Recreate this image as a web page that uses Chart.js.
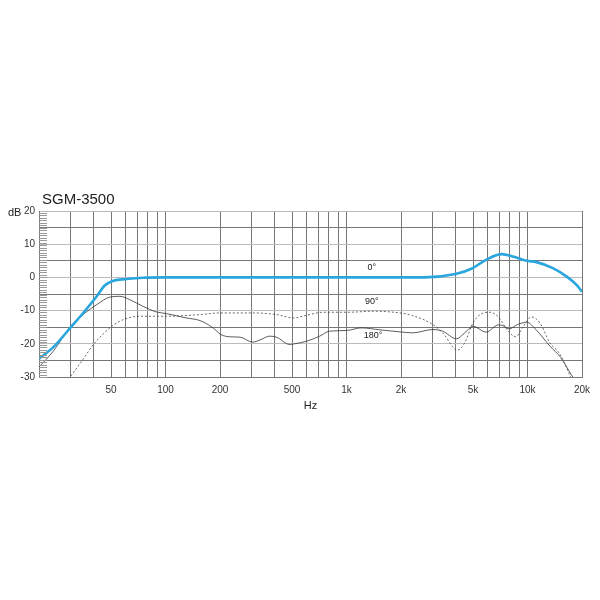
<!DOCTYPE html>
<html>
<head>
<meta charset="utf-8">
<script src="https://cdn.jsdelivr.net/npm/chart.js@4"></script>
<style>
  body { margin: 0; background: #fff; }
  #wrap { width: 600px; height: 600px; }
</style>
</head>
<body>
<div id="wrap"><canvas id="respChart"></canvas></div>
<script>
// 0° (on axis)
var freq0 = [20, 24, 30, 35, 41.7, 46, 51.5, 61, 75, 100, 1000, 2700, 4000, 4900, 5900, 7200, 8300, 9900, 11200, 13800, 16400, 18600, 20000];
var db0   = [-24.5, -21, -15, -10.8, -5.7, -2.5, -1, -0.5, -0.1, 0, 0, 0, 1, 2.6, 5.3, 7.0, 6.3, 5.0, 4.6, 2.8, 0.3, -2.2, -4.3];

// 90° (dashed)
var freq90 = [30, 35, 40, 50.6, 58.6, 72.5, 101, 155, 200, 306, 410, 508, 603, 740, 1000, 1410, 1970, 2320, 3000, 3400, 4100, 4500, 5000, 5700, 6200, 6900, 7700, 8600, 9500, 10500, 11700, 13300, 15000, 16900, 17300];
var db90   = [-29.7, -24.7, -20.2, -14.7, -12.7, -11.7, -11.7, -11.2, -10.7, -10.7, -11.2, -12.2, -11.4, -10.5, -10.5, -10.2, -10.7, -11.5, -14.2, -16.7, -21.9, -19.7, -13.7, -10.7, -10.5, -11.9, -15.7, -17.9, -14.7, -11.9, -13.7, -19.7, -22.9, -28.7, -30];

// 180° (solid thin)
var freq180 = [20, 24, 30, 35, 41.7, 49.5, 56, 63.5, 75, 89, 101, 130, 155, 183, 202, 228, 258, 303, 337, 376, 410, 485, 516, 603, 711, 805, 1000, 1210, 1530, 1970, 2320, 3000, 3400, 4050, 4500, 5000, 5900, 6900, 7300, 7900, 8800, 9900, 11200, 13300, 15300, 17400, 17800];
var db180   = [-27, -22.2, -14.7, -11.2, -8.2, -5.9, -5.7, -6.7, -8.7, -10.4, -10.9, -12.2, -13, -15.2, -17.2, -17.9, -18, -19.5, -18.7, -17.7, -18, -20.2, -20, -19.2, -17.7, -16.2, -16, -15.2, -15.8, -16.4, -16.7, -15.7, -16.2, -18.5, -16.7, -14.7, -16.5, -14.3, -14.5, -15.5, -14.2, -13.5, -15.9, -20.7, -24.2, -29.2, -30];

// axis ticks
var xGridFreqs = [20, 30, 40, 50, 60, 70, 80, 90, 100, 200, 300, 400, 500, 600, 700, 800, 900,
                  1000, 2000, 3000, 4000, 5000, 6000, 7000, 8000, 9000, 10000, 20000];
var xLabelFreqs = [50, 100, 200, 500, 1000, 2000, 5000, 10000, 20000];
var xLabelText  = ['50', '100', '200', '500', '1k', '2k', '5k', '10k', '20k'];
var yTicks = [-30, -20, -10, 0, 10, 20];

// curve labels
var curveNames = ['0°', '90°', '180°'];
var curveLabelFreq = [1380, 1380, 1400];
var curveLabelDb = [2.9, -7.3, -17.5];

function pairs(fs, vs) {
    return fs.map(function (f, i) { return { x: f, y: vs[i] }; });
}

var ladderStep = 0.75;

// draws title, dB label, left ruler and the angle labels
var decorPlugin = {
    id: 'decor',
    afterDraw: function (chart) {
        var ctx = chart.ctx;
        var xs = chart.scales.x;
        var ys = chart.scales.y;
        var area = chart.chartArea;
        ctx.save();

        // ruler on the left edge
        ctx.strokeStyle = '#999';
        ctx.lineWidth = 1;
        ctx.beginPath();
        for (var v = -30; v <= 20; v += ladderStep) {
            var py = Math.round(ys.getPixelForValue(v)) + 0.5;
            ctx.moveTo(area.left, py);
            ctx.lineTo(area.left + 8, py);
        }
        ctx.stroke();

        ctx.fillStyle = '#222';
        ctx.font = '15px "Liberation Sans", Arial, sans-serif';
        ctx.textAlign = 'left';
        ctx.textBaseline = 'alphabetic';
        ctx.fillText('SGM-3500', 42, 204);

        ctx.font = '11px "Liberation Sans", Arial, sans-serif';
        ctx.fillText('dB', 8, 216);

        ctx.font = '9px "Liberation Sans", Arial, sans-serif';
        ctx.textAlign = 'center';
        ctx.textBaseline = 'middle';
        curveNames.forEach(function (name, i) {
            ctx.fillText(name, xs.getPixelForValue(curveLabelFreq[i]), ys.getPixelForValue(curveLabelDb[i]));
        });
        ctx.restore();
    }
};

const ctx = document.getElementById('respChart').getContext('2d');

const respChart = new Chart(ctx, {
    type: 'line',
    data: {
        datasets: [
            {
                label: '0°',
                data: pairs(freq0, db0),
                borderColor: '#2aa6de',
                borderWidth: 2.6,
                cubicInterpolationMode: 'monotone',
                pointRadius: 0,
                fill: false,
            },
            {
                label: '90°',
                data: pairs(freq90, db90),
                borderColor: '#444',
                borderWidth: 0.8,
                borderDash: [2, 2],
                cubicInterpolationMode: 'monotone',
                pointRadius: 0,
                fill: false,
            },
            {
                label: '180°',
                data: pairs(freq180, db180),
                borderColor: '#333',
                borderWidth: 0.8,
                cubicInterpolationMode: 'monotone',
                pointRadius: 0,
                fill: false,
            },
        ],
    },
    options: {
        responsive: true,
        maintainAspectRatio: false,
        animation: false,
        layout: {
            padding: { left: 0, right: 18, top: 211, bottom: 187 }
        },
        plugins: {
            legend: { display: false },
            tooltip: { enabled: false },
        },
        scales: {
            x: {
                type: 'logarithmic',
                min: 20,
                max: 20000,
                afterBuildTicks: function (scale) {
                    scale.ticks = xGridFreqs.map(function (f) { return { value: f }; });
                },
                afterFit: function (scale) { scale.height = 36; },
                grid: {
                    color: '#777',
                    lineWidth: 1,
                    drawTicks: false,
                },
                border: { color: '#777' },
                ticks: {
                    autoSkip: false,
                    maxRotation: 0,
                    padding: 7,
                    color: '#333',
                    font: { family: '"Liberation Sans", Arial, sans-serif', size: 10 },
                    callback: function (value) {
                        var i = xLabelFreqs.indexOf(value);
                        return i >= 0 ? xLabelText[i] : '';
                    }
                },
                title: {
                    display: true,
                    text: 'Hz',
                    color: '#222',
                    padding: { top: 0, bottom: 0 },
                    font: { family: '"Liberation Sans", Arial, sans-serif', size: 11 },
                },
            },
            y: {
                min: -30,
                max: 20,
                afterFit: function (scale) { scale.width = 39; },
                ticks: {
                    stepSize: 5,
                    padding: 4,
                    color: '#333',
                    font: { family: '"Liberation Sans", Arial, sans-serif', size: 10 },
                    callback: function (value) {
                        return yTicks.indexOf(value) >= 0 ? String(value) : '';
                    }
                },
                grid: {
                    drawTicks: false,
                    color: function (c) {
                        return (c.tick.value % 10 === 0) ? '#bbb' : '#777';
                    },
                },
                border: { color: '#777' },
            },
        },
    },
    plugins: [decorPlugin],
});
</script>
</body>
</html>
